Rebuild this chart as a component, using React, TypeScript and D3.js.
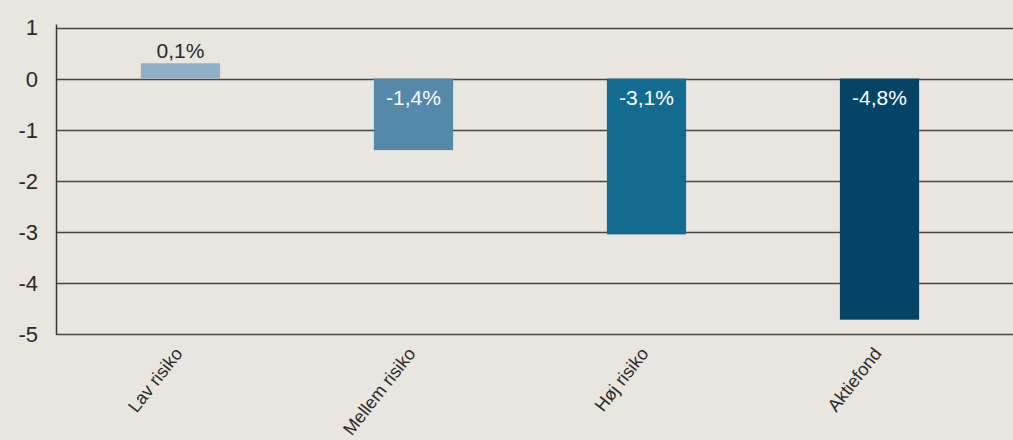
import React from 'react'
import * as d3 from 'd3'

const categories = ['Lav risiko', 'Mellem risiko', 'Høj risiko', 'Aktiefond']
const values = [0.3, -1.4, -3.05, -4.72]
const valueLabels = ['0,1%', '-1,4%', '-3,1%', '-4,8%']
const colors = ['#8fb0c9', '#5589aa', '#126c91', '#034467']
const yTicks = [1, 0, -1, -2, -3, -4, -5]

const W = 1013
const H = 440
const FONT = '"Liberation Sans", Arial, Helvetica, sans-serif'

const App: React.FC = () => {
  const axisX = 56.5
  const y = d3.scaleLinear().domain([-5, 1]).range([334, 27.5])
  const x = d3.scaleBand<string>().domain(categories).range([64, 996]).padding(0)
  const barW = x.step() * 0.34

  return (
    <div style={{ position: 'absolute', left: 0, top: 0 }}>
      <svg width={W} height={H} style={{ display: 'block', background: '#e9e5df' }}>
        <rect width={W} height={H} fill="#e9e5df" />

        {/* gridlines */}
        {yTicks.map(t => (
          <line key={t} x1={axisX} x2={W} y1={Math.round(y(t)) + 0.5} y2={Math.round(y(t)) + 0.5}
            stroke="#4a4744" strokeWidth={1.3} />
        ))}

        {/* bars */}
        {categories.map((c, i) => {
          const cx = (x(c) || 0) + x.bandwidth() / 2
          const v = values[i]
          const top = y(Math.max(0, v))
          const bottom = y(Math.min(0, v))
          return (
            <g key={c}>
              <rect x={cx - barW / 2} y={top} width={barW} height={bottom - top} fill={colors[i]} />
              <text x={cx} y={v >= 0 ? top - 5 : y(0) + 26} textAnchor="middle"
                fontFamily={FONT} fontSize={21} fill={v >= 0 ? '#2b2a29' : '#ffffff'}>
                {valueLabels[i]}
              </text>
              <text transform={`translate(${cx - 7},${y(-5) + 12}) rotate(-52)`} textAnchor="end"
                fontFamily={FONT} fontSize={18} fill="#2b2a29" dy="0.7em">
                {c}
              </text>
            </g>
          )
        })}

        {/* y axis */}
        <line x1={axisX} x2={axisX} y1={y(1) - 3} y2={y(-5) + 1} stroke="#3a3836" strokeWidth={1.5} />
        {yTicks.map(t => (
          <text key={t} x={38} y={y(t)} dy="0.36em" textAnchor="end" fontFamily={FONT}
            fontSize={22} fill="#2b2a29">
            {t}
          </text>
        ))}
      </svg>
    </div>
  )
}

export default App
